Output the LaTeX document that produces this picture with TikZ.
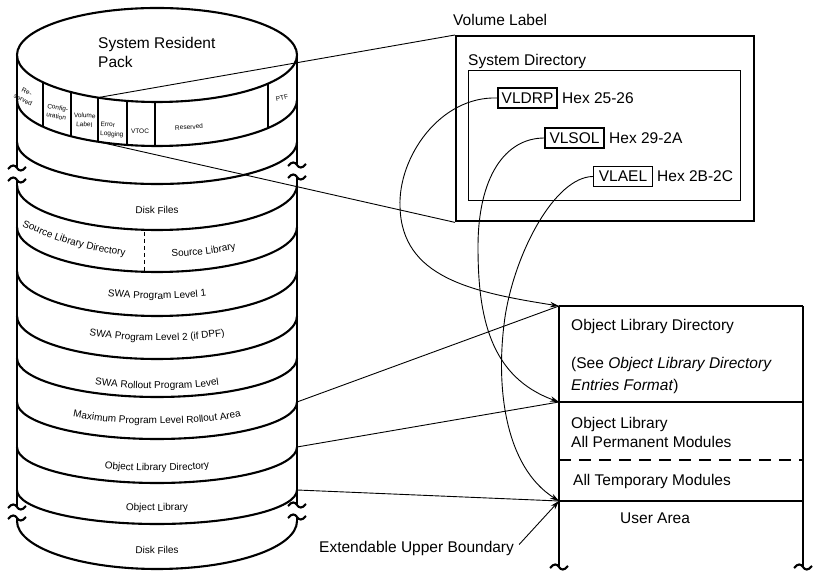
\documentclass[tikz,border=0pt]{standalone}
\usepackage{fontspec}
\setmainfont{Liberation Sans}
\usetikzlibrary{arrows.meta,decorations.text}
\newcommand{\cylfont}{\fontsize{10}{12}\selectfont}
\newcommand{\segfont}{\fontsize{6.5}{9}\selectfont}
\newcommand{\bigfont}{\fontsize{15.5}{18}\selectfont}
\begin{document}
\begin{tikzpicture}[x=1pt,y=1pt,
  band/.style={line width=2.1pt},
  segline/.style={line width=1.1pt},
  conn/.style={line width=0.9pt},
  arr/.style={conn,-{Stealth[length=9pt,width=5.5pt]}},
  lbl/.style={inner sep=0pt,font=\bigfont},
  seglbl/.style={inner sep=0pt,align=center,font=\segfont},
  vlb/.style={draw,line width=1.1pt,minimum width=59pt,minimum height=20pt,
    inner sep=0pt,text height=11pt,text depth=0pt,font=\bigfont},
  brk/.pic={\draw[band] (-9,-1) .. controls (-5,4) and (-2,3) .. (0,0)
      .. controls (2,-3) and (5,-4) .. (9,1);},
  curvetext/.style={decorate,decoration={text along path,text align=center,
    text={|\cylfont|#1}}},
  curvetextl/.style={decorate,decoration={text along path,text align=left,
    text={|\cylfont|#1}}}
]
\fill[white] (0,0) rectangle (813,577);
\useasboundingbox (0,0) rectangle (813,577);

% ---------- disk pack cylinder ----------
\draw[band] (157,522) ellipse [x radius=140, y radius=47];
\foreach \c/\r in {477/46,435/42,392/45,350/45,306/45,261/43,219/39,175/37,130/36,87/34,56/48}
  \draw[band] (17,\c) arc [start angle=180, end angle=360, x radius=140, y radius=\r];

% side edges with break marks
\draw[band] (17,522) -- (17,409);
\pic at (17,409) {brk};
\pic at (17,397) {brk};
\draw[band] (17,397) -- (17,70);
\pic at (17,70) {brk};
\pic at (17,59) {brk};
\draw[band] (17,59) -- (17,56);

\draw[band] (297,522) -- (297,412);
\pic at (297,412) {brk};
\pic at (297,400) {brk};
\draw[band] (297,400) -- (297,72);
\pic at (297,72) {brk};
\pic at (297,60) {brk};
\draw[band] (297,60) -- (297,56);

% segments of the label track
\foreach \x/\t/\b in {43/494.7/450.3,71/484.9/440.7,98/479.4/435.3,127/476.1/432.1,155/475/431,268/493.4/449}
  \draw[segline] (\x,\t) -- (\x,\b);
\coordinate (vlTop) at (98,479.4);
\coordinate (vlBot) at (98,435.3);

\node[seglbl,rotate=-25] (resA) at (25,481) {Re-\\served};
\node[seglbl,rotate=-10] (cfg) at (57,465) {Config-\\uration};
\node[seglbl,rotate=-4] (vol) at (84.5,457) {Volume\\Label};
\node[seglbl,rotate=-2,align=left] (err) at (112,447) {Error\\Logging};
\node[seglbl] (vtoc) at (140,446) {VTOC};
\node[seglbl,rotate=3] (resB) at (189,450) {Reserved};
\node[seglbl,rotate=12] (ptf) at (282,479) {PTF};

\node[lbl,anchor=base west] (sysres) at (98,528) {System Resident};
\node[lbl,anchor=base west] (pack) at (98,509) {Pack};

% band labels following the curvature
\path[curvetext={Disk Files}] (17,408) arc [start angle=180, end angle=360, x radius=140, y radius=45];
\path[curvetextl={Source Library Directory}] (22,351) .. controls (55,336) and (95,321) .. (150,320);
\path[curvetextl={Source Library}] (171.6,320.25) arc [start angle=276, end angle=350, x radius=140, y radius=45];
\draw[line width=1pt,dash pattern=on 4pt off 3pt] (144,345) -- (144,306);
\path[curvetext={SWA Program Level 1}] (17,323) arc [start angle=180, end angle=360, x radius=140, y radius=45];
\path[curvetext={SWA Program Level 2 (if DPF)}] (17,279) arc [start angle=180, end angle=360, x radius=140, y radius=43];
\path[curvetext={SWA Rollout Program Level}] (17,227) arc [start angle=180, end angle=360, x radius=140, y radius=39];
\path[curvetext={Maximum Program Level Rollout Area}] (17,190) arc [start angle=180, end angle=360, x radius=140, y radius=37];
\path[curvetext={Object Library Directory}] (17,142) arc [start angle=180, end angle=360, x radius=140, y radius=36];
\path[curvetext={Object Library}] (17,100) arc [start angle=180, end angle=360, x radius=140, y radius=34];
\path[curvetext={Disk Files}] (17,68) arc [start angle=180, end angle=360, x radius=140, y radius=45];

\coordinate (cylMax) at (297,175);
\coordinate (cylOLD) at (297,130);
\coordinate (cylOL) at (297,87);

% ---------- volume label ----------
\node[lbl,anchor=base west] (vltitle) at (453,551.5) {Volume Label};
\node[draw,line width=2.4pt,minimum width=298pt,minimum height=185pt,inner sep=0pt,anchor=north west] (vlbox) at (455,542) {};
\node[draw,line width=1.2pt,minimum width=272pt,minimum height=130pt,inner sep=0pt,anchor=north west] (sysdir) at (468,507) {};
\node[lbl,anchor=base west] (sdtitle) at (468,511.5) {System Directory};

\node[vlb] (vldrp) at (527.5,479) {VLDRP};
\node[lbl,anchor=base west] (hexA) at (562,473.5) {Hex 25-26};
\node[vlb] (vlsol) at (574.5,439) {VLSOL};
\node[lbl,anchor=base west] (hexB) at (609,433.5) {Hex 29-2A};
\node[vlb] (vlael) at (623,400.5) {VLAEL};
\node[lbl,anchor=base west] (hexC) at (657,395) {Hex 2B-2C};

% ---------- object library layout ----------
\coordinate (rbTL) at (559,271);
\coordinate (rbTR) at (803,271);
\coordinate (rbOL) at (559,175);
\coordinate (rbOLr) at (803,175);
\coordinate (rbTmp) at (559,117);
\coordinate (rbTmpR) at (803,117);
\coordinate (rbUB) at (559,76);
\coordinate (rbUBr) at (803,76);
\coordinate (rbBL) at (559,10);
\coordinate (rbBR) at (803,10);

\draw[line width=2pt] (rbTL) -- (rbTR);
\draw[line width=2.1pt] (rbTL) -- (rbBL);
\draw[line width=1.7pt] (rbTR) -- (rbBR);
\draw[line width=1.1pt] (rbOL) -- (rbOLr);
\draw[line width=1.1pt,dash pattern=on 12pt off 8pt] (rbTmp) -- (rbTmpR);
\draw[line width=1.1pt] (rbUB) -- (rbUBr);
\pic at (rbBL) {brk};
\pic at (rbBR) {brk};

\node[lbl,anchor=base west] (oldA) at (571,246.5) {Object Library Directory};
\node[lbl,anchor=base west] (oldB) at (571,208.5) {(See \textit{Object Library Directory}};
\node[lbl,anchor=base west] (oldC) at (571,186.5) {\textit{Entries Format})};
\node[lbl,anchor=base west] (olA) at (571,148.5) {Object Library};
\node[lbl,anchor=base west] (olB) at (571,129.5) {All Permanent Modules};
\node[lbl,anchor=base west] (olC) at (573,91.5) {All Temporary Modules};
\node[lbl,anchor=base west] (user) at (620,53.5) {User Area};

\node[lbl,anchor=base west] (ext) at (319,24.5) {Extendable Upper Boundary};

% ---------- connectors ----------
\draw[conn] (vlTop) -- (vlbox.north west);
\draw[conn] (vlBot) -- (vlbox.south west);
\draw[conn] (cylMax) -- (rbTL);
\draw[conn] (cylOLD) -- (rbOL);
\draw[conn] (cylOL) -- (rbUB);

\draw[arr] (vldrp.west) .. controls (440,481) and (398,420) .. (400,370)
  .. controls (402,300) and (470,285) .. (rbTL);
\draw[arr] (vlsol.west) .. controls (505,439) and (478,400) .. (478,330)
  .. controls (478,260) and (490,200) .. (rbOL);
\draw[arr] (vlael.west) .. controls (555,400) and (515,325) .. (505,260)
  .. controls (495,190) and (505,110) .. (rbUB);
\draw[arr] ([xshift=5pt,yshift=4pt]ext.east) -- (rbUB);
\end{tikzpicture}
\end{document}
